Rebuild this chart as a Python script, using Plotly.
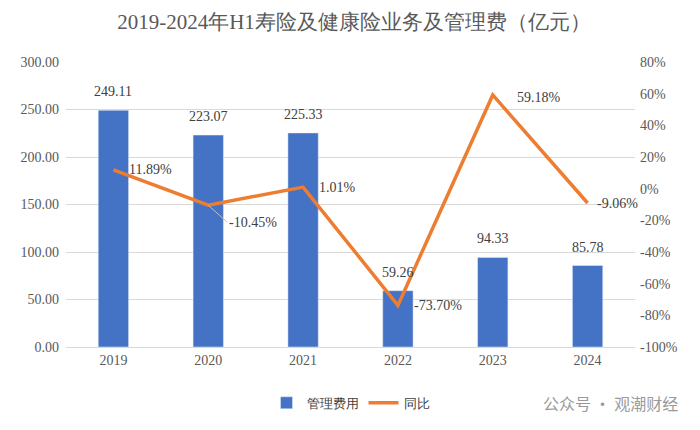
import plotly.graph_objects as go

years = ["2019", "2020", "2021", "2022", "2023", "2024"]
mgmt_fee = [249.11, 223.07, 225.33, 59.26, 94.33, 85.78]
yoy_pct = [11.89, -10.45, 1.01, -73.70, 59.18, -9.06]

left_ticks = [0, 50, 100, 150, 200, 250, 300]
right_ticks = [-100, -80, -60, -40, -20, 0, 20, 40, 60, 80]

SERIF = "Liberation Serif, Times New Roman, serif"
CJK = "Noto Sans CJK SC, sans-serif"

xpos = list(range(len(years)))

fig = go.Figure()
fig.add_trace(go.Bar(
    x=xpos, y=mgmt_fee, name="管理费用",
    marker=dict(color="#4472C4"), width=0.32,
))
fig.add_trace(go.Scatter(
    x=xpos, y=yoy_pct, name="同比", yaxis="y2", mode="lines",
    line=dict(color="#ED7D31", width=3.5),
))

# bar labels
for i, v in enumerate(mgmt_fee):
    fig.add_annotation(x=xpos[i], y=v, xref="x", yref="y", text=f"{v:.2f}",
                       showarrow=False, xanchor="center", yanchor="bottom", yshift=9,
                       font=dict(family=SERIF, size=14, color="#404040"))

# line labels
xshifts = [14, 0, 14, 14, 22, 7]
yshifts = [0, 0, 0, 0, -3, 0]
for i, v in enumerate(yoy_pct):
    if i == 1:
        fig.add_annotation(x=xpos[i], y=v, xref="x", yref="y2", text=f"{v:.2f}%",
                           showarrow=True, arrowhead=0, arrowwidth=1, arrowcolor="#bfbfbf",
                           ax=19, ay=17, xanchor="left", yanchor="middle",
                           font=dict(family=SERIF, size=14, color="#404040"))
    else:
        fig.add_annotation(x=xpos[i], y=v, xref="x", yref="y2", text=f"{v:.2f}%",
                           showarrow=False, xanchor="left", yanchor="middle",
                           xshift=xshifts[i], yshift=yshifts[i],
                           font=dict(family=SERIF, size=14, color="#404040"))

fig.add_annotation(xref="paper", yref="paper", x=1.079, y=-0.196, xanchor="right",
                   yanchor="middle",
                   text="公众号 · 观潮财经", showarrow=False,
                   font=dict(family=CJK, size=16, color="#9a9a9a"))

fig.update_layout(
    width=692, height=422,
    paper_bgcolor="white", plot_bgcolor="white",
    margin=dict(l=55, r=65, t=54, b=83),
    title=dict(text="2019-2024年H1寿险及健康险业务及管理费（亿元）",
               x=0.5, xanchor="center", y=0.967, yanchor="middle",
               font=dict(family=SERIF, size=21, color="#595959")),
    xaxis=dict(range=[-0.5, 5.5], tickvals=xpos, ticktext=years,
               showgrid=False, showline=True, linecolor="#d9d9d9", zeroline=False,
               ticks="", tickfont=dict(family=SERIF, size=14, color="#595959")),
    yaxis=dict(range=[0, 300], tickvals=left_ticks,
               ticktext=[f"{t:.2f}" for t in left_ticks],
               showgrid=True, gridcolor="#d9d9d9", zeroline=False,
               ticklabelstandoff=6,
               tickfont=dict(family=SERIF, size=14, color="#595959")),
    yaxis2=dict(range=[-100, 80], tickvals=right_ticks,
                ticktext=[f"{t}%" for t in right_ticks],
                overlaying="y", side="right", showgrid=False, zeroline=False,
                ticklabelstandoff=4,
                tickfont=dict(family=SERIF, size=14, color="#595959")),
    legend=dict(orientation="h", x=0.5, xanchor="center", y=-0.196, yanchor="middle",
                font=dict(family=SERIF, size=13, color="#404040")),
    showlegend=True,
)

fig.write_html("out.html")
